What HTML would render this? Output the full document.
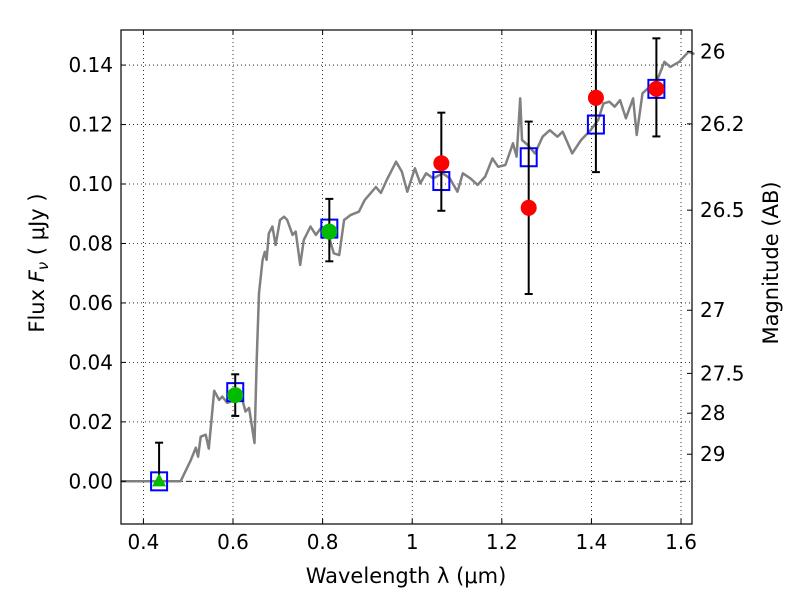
<!DOCTYPE html>
<html><head><meta charset="utf-8"><style>
body{margin:0;background:#fff;}
svg{display:block;font-family:"DejaVu Sans","Liberation Sans",sans-serif;}
</style></head><body>
<svg id="chart" width="800" height="600" viewBox="0 0 800 600" xmlns="http://www.w3.org/2000/svg">
<g id="grid"></g>
<g id="spec"></g>
<g id="marks"></g>
<g id="axes"></g>
</svg>
<script>
const specWave=[0.35,0.483,0.506,0.517,0.522,0.528,0.539,0.546,0.558,0.569,0.576,0.587,0.606,0.621,0.628,0.636,0.648,0.653,0.658,0.666,0.671,0.675,0.680,0.688,0.695,0.705,0.714,0.721,0.733,0.740,0.750,0.758,0.773,0.785,0.796,0.814,0.825,0.837,0.848,0.863,0.881,0.894,0.919,0.930,0.943,0.964,0.977,0.989,1.006,1.018,1.031,1.047,1.068,1.084,1.101,1.113,1.130,1.146,1.163,1.179,1.192,1.208,1.225,1.233,1.241,1.245,1.258,1.274,1.291,1.307,1.324,1.336,1.357,1.377,1.398,1.415,1.427,1.440,1.452,1.464,1.477,1.493,1.501,1.514,1.530,1.547,1.563,1.576,1.596,1.617,1.63];
const specFlux=[0,0,0.0072,0.0113,0.0083,0.015,0.0157,0.011,0.0305,0.0274,0.0285,0.0264,0.0274,0.0274,0.0235,0.0247,0.0129,0.0408,0.0633,0.0745,0.0772,0.0745,0.0834,0.0857,0.0795,0.0879,0.089,0.0879,0.0829,0.084,0.0728,0.0812,0.0857,0.0829,0.0851,0.0823,0.0767,0.0761,0.0879,0.0896,0.0907,0.0946,0.099,0.097,0.1013,0.1075,0.1041,0.0974,0.1053,0.1002,0.1036,0.1019,0.1036,0.1019,0.0974,0.1036,0.1019,0.0997,0.1025,0.1086,0.1058,0.1064,0.1137,0.1092,0.1288,0.1148,0.1131,0.1103,0.1159,0.1181,0.1159,0.1176,0.1103,0.1148,0.1181,0.1215,0.1271,0.1277,0.126,0.1282,0.1221,0.1288,0.1165,0.1305,0.1327,0.135,0.1411,0.1394,0.1411,0.1445,0.1437];
const sqWave=[0.435,0.605,0.815,1.065,1.26,1.41,1.545];
const sqFlux=[0.0,0.030,0.085,0.101,0.109,0.120,0.132];
const ptWave=[0.605,0.815,1.065,1.26,1.41,1.545];
const ptFlux=[0.029,0.084,0.107,0.092,0.129,0.132];
const ptLo=[0.022,0.074,0.091,0.063,0.104,0.116];
const ptHi=[0.036,0.095,0.124,0.121,0.17,0.149];
const ptColor=["#00bb00","#00bb00","red","red","red","red"];
const triWave=[0.435]; const triFlux=[0.0]; const triHi=[0.013];
const xTicks=[0.4,0.6,0.8,1.0,1.2,1.4,1.6];
const xTickLabels=["0.4","0.6","0.8","1","1.2","1.4","1.6"];
const yTicks=[0,0.02,0.04,0.06,0.08,0.10,0.12,0.14];
const yTickLabels=["0.00","0.02","0.04","0.06","0.08","0.10","0.12","0.14"];
const magTicks=[26,26.2,26.5,27,27.5,28,29];
const magTickLabels=["26","26.2","26.5","27","27.5","28","29"];

const L=121,R=692,T=30,B=524;
const X0=0.35,X1=1.6245,Y0=-0.01435,Y1=0.1518;
const sx=v=>L+(v-X0)/(X1-X0)*(R-L);
const sy=v=>B-(v-Y0)/(Y1-Y0)*(B-T);
const NS="http://www.w3.org/2000/svg";
function mk(tag,attrs,parent,text){const e=document.createElementNS(NS,tag);for(const k in attrs)e.setAttribute(k,attrs[k]);if(text!==undefined)e.textContent=text;parent.appendChild(e);return e;}
const grid=document.getElementById('grid'),spec=document.getElementById('spec'),marks=document.getElementById('marks'),axes=document.getElementById('axes');

xTicks.forEach((t,i)=>{
 const g=mk('line',{x1:sx(t),x2:sx(t),y1:T,y2:B,stroke:'#000','stroke-width':0.8,'stroke-dasharray':'1,3'},grid);
 
 mk('line',{x1:sx(t),x2:sx(t),y1:B,y2:B-5,stroke:'#000'},axes);
 mk('line',{x1:sx(t),x2:sx(t),y1:T,y2:T+5,stroke:'#000'},axes);
 const l=mk('text',{x:sx(t),y:B+25,'font-size':20,'text-anchor':'middle'},axes,xTickLabels[i]);
 
});
yTicks.forEach((t,i)=>{
 if(t!==0){const g=mk('line',{x1:L,x2:R,y1:sy(t),y2:sy(t),stroke:'#000','stroke-width':0.8,'stroke-dasharray':'1,3'},grid);
 }
 mk('line',{x1:L,x2:L+5,y1:sy(t),y2:sy(t),stroke:'#000'},axes);
 const l=mk('text',{x:L-8,y:sy(t)+7,'font-size':20,'text-anchor':'end'},axes,yTickLabels[i]);
 
});
const zl=mk('line',{x1:L,x2:R,y1:sy(0),y2:sy(0),stroke:'#000','stroke-width':0.8,'stroke-dasharray':'6,3,1,3'},grid);

magTicks.forEach((m,i)=>{
 const f=Math.pow(10,-(m-23.9)/2.5);
 mk('line',{x1:R,x2:R-5,y1:sy(f),y2:sy(f),stroke:'#000'},axes);
 const l=mk('text',{x:R+8,y:sy(f)+7,'font-size':20},axes,magTickLabels[i]);
 
});

const pts=specWave.map((w,i)=>sx(w).toFixed(1)+','+sy(specFlux[i]).toFixed(1)).join(' ');
const pl=mk('polyline',{points:pts,fill:'none',stroke:'#808080','stroke-width':2.5,'stroke-linejoin':'round'},spec);


sqWave.forEach((w,i)=>{
 const r=mk('rect',{x:sx(w)-8,y:sy(sqFlux[i])-9,width:16,height:18,fill:'none',stroke:'#0000ff','stroke-width':2},marks);
 
});
triWave.forEach((w,i)=>{
 const x=sx(w),y0=sy(triFlux[i]),y1=sy(triHi[i]);
 const e=mk('line',{x1:x,x2:x,y1:y0,y2:y1,stroke:'#000','stroke-width':2},marks);
 
 mk('line',{x1:x-4,x2:x+4,y1:y1,y2:y1,stroke:'#000','stroke-width':2},marks);
 const t=mk('polygon',{points:`${x},${y0-8} ${x-7},${y0+5} ${x+7},${y0+5}`,fill:'#00bb00'},marks);
 
});
ptWave.forEach((w,i)=>{
 const x=sx(w),ylo=sy(ptLo[i]),yhi=sy(Math.min(ptHi[i],Y1));
 const e=mk('line',{x1:x,x2:x,y1:ylo,y2:yhi,stroke:'#000','stroke-width':2},marks);
 
 mk('line',{x1:x-4,x2:x+4,y1:ylo,y2:ylo,stroke:'#000','stroke-width':2},marks);
 if(ptHi[i]<Y1)mk('line',{x1:x-4,x2:x+4,y1:yhi,y2:yhi,stroke:'#000','stroke-width':2},marks);
 const c=mk('circle',{cx:x,cy:sy(ptFlux[i]),r:8,fill:ptColor[i]},marks);
 
});

const fr=mk('rect',{x:L,y:T,width:R-L,height:B-T,fill:'none',stroke:'#000','stroke-width':1.2},axes);

const xl=mk('text',{x:406,y:583,'font-size':21,'text-anchor':'middle'},axes,'Wavelength  λ (μm)');

const yl=mk('text',{x:0,y:0,'font-size':21,'text-anchor':'middle',transform:'translate(44,263) rotate(-90)'},axes);

yl.innerHTML='Flux  <tspan font-style="italic">F</tspan><tspan font-style="italic" font-size="15" dy="4">ν</tspan><tspan dy="-4">  ( μJy )</tspan>';
const ml=mk('text',{x:0,y:0,'font-size':21,'text-anchor':'middle',transform:'translate(778,263) rotate(-90)'},axes,'Magnitude (AB)');

</script>
</body></html>
